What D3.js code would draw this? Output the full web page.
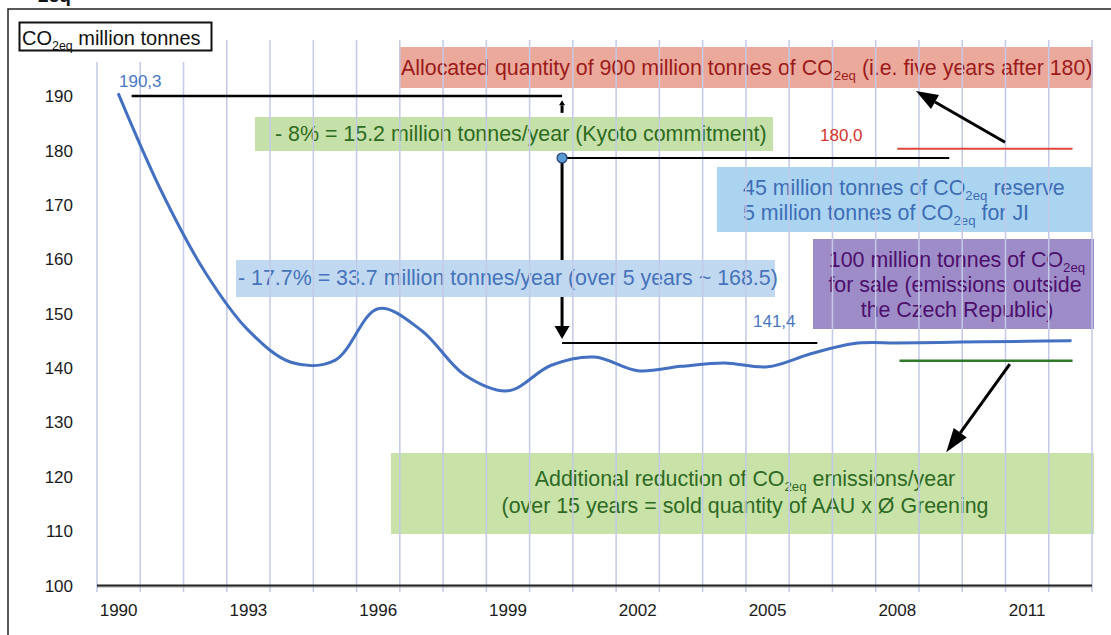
<!DOCTYPE html>
<meta charset="utf-8">
<head>
<style>
  body { margin: 0; background: #fff; }
  svg { font-family: "Liberation Sans", Arial, sans-serif; }
  .tick { font-size: 17px; fill: #1a1a1a; }
  .grid { stroke: #c3c9e7; stroke-width: 1.5; }
</style>
</head>
<body>
<svg id="chart" width="1111" height="635"></svg>
<script src="https://d3js.org/d3.v7.min.js"></script>
<script>

// yearly CO2eq emissions, million tonnes
var years = [1990, 1991, 1992, 1993, 1994, 1995, 1996, 1997, 1998, 1999, 2000, 2001,
             2002, 2003, 2004, 2005, 2006, 2007, 2008, 2009, 2010, 2011, 2012];
var emissions = [190.3, 172.3, 157.6, 146.9, 141.0, 141.4, 150.9, 146.9, 138.7, 135.8, 140.5, 142.0,
                 139.5, 140.3, 140.9, 140.2, 142.6, 144.5, 144.6, 144.7, 144.8, 144.9, 145.0];
var yTicks = [100, 110, 120, 130, 140, 150, 160, 170, 180, 190];
var xTickYears = [1990, 1993, 1996, 1999, 2002, 2005, 2008, 2011];

// reference lines: [fromYear, toYear, value]
var kyotoBase = [1990.3, 2000.25, 190.0];
var kyotoTarget = [2000.25, 2009.2, 178.6];
var reductionLine = [2000.25, 2006.15, 144.6];
var allocLine = [2008.0, 2012.05, 180.3];
var greenLine = [2008.05, 2012.05, 141.3];
// arrows: [fromYear, fromValue, toYear, toValue]
var arrowUp = [2000.25, 186.9, 2000.25, 189.2];
var arrowDown = [2000.25, 178.3, 2000.25, 145.3];
var arrowAlloc = [2010.49, 181.5, 2008.43, 190.9];
var arrowGreen = [2010.6, 140.7, 2009.13, 124.5];

var labelStart = "190,3", labelAlloc = "180,0", labelEnd = "141,4";

var svg = d3.select("#chart");

var x = d3.scaleBand().domain(years).range([97, 1092]);
var bw = x.bandwidth();
var xl = d3.scaleLinear().domain([1990, 2012]).range([x(1990) + bw / 2, x(2012) + bw / 2]);
var y = d3.scaleLinear().domain([100, 190]).range([585.5, 96]);

// frame of the cropped figure
svg.append("path").attr("d", "M8,640 V9 H1115").attr("fill", "none").attr("stroke", "#222").attr("stroke-width", 1.5);
svg.append("text").attr("x", 38).attr("y", 2).attr("font-size", 19).attr("font-weight", "bold").attr("fill", "#111").text("2eq");

// writes a line made of plain parts and {sub: ".."} parts
function richText(g, parts, px, py, size, color, anchor) {
  var t = g.append("text").attr("x", px).attr("y", py).attr("font-size", size)
    .attr("fill", color).attr("text-anchor", anchor || "start");
  var shift = Math.round(size * 0.25), back = 0;
  parts.forEach(function(p) {
    if (typeof p == "string") {
      t.append("tspan").attr("dy", back || null).text(p);
      back = 0;
    } else {
      t.append("tspan").attr("dy", shift).attr("font-size", size * 0.62).text(p.sub);
      back = -shift;
    }
  });
  return t;
}

function arrowHead(g, a, len, wid, color) {
  var x1 = xl(a[0]), y1 = y(a[1]), x2 = xl(a[2]), y2 = y(a[3]);
  var ang = Math.atan2(y2 - y1, x2 - x1);
  var bx = x2 - len * Math.cos(ang), by = y2 - len * Math.sin(ang);
  var nx = -Math.sin(ang) * wid / 2, ny = Math.cos(ang) * wid / 2;
  g.append("line").attr("x1", x1).attr("y1", y1).attr("x2", bx).attr("y2", by)
    .attr("stroke", color).attr("stroke-width", 3);
  g.append("polygon").attr("points", [[x2, y2], [bx + nx, by + ny], [bx - nx, by - ny]].join(" "))
    .attr("fill", color);
}

var ann = svg.append("g");
// the long vertical arrow sits under the blue box
arrowHead(ann, arrowDown, 13, 15, "#000");

// text boxes
var boxes = svg.append("g");
function box(bx, by, w, h, fill) {
  boxes.append("rect").attr("x", bx).attr("y", by).attr("width", w).attr("height", h).attr("fill", fill);
}
box(399, 47, 694, 41, "#eba99b");
box(255, 117, 518, 34, "#c6e0a9");
box(236, 260, 539, 37, "#c1d9f0");
box(717, 167, 375, 65, "#abd4f1");
box(813, 239, 281, 90, "#9d8cc8");
box(391, 453, 703, 81, "#c8e2a8");

var fs = 21.4;
richText(boxes, ["Allocated quantity of 900 million tonnes of  CO", {sub: "2eq"}, " (i.e. five years after 180)"], 401, 75, fs, "#9b1b1b");
richText(boxes, ["- 8% = 15.2 million tonnes/year (Kyoto commitment)"], 275, 141, fs, "#2e6b1e");
richText(boxes, ["- 17.7% = 33.7 million tonnes/year (over 5 years ~ 168.5)"], 238, 285, fs, "#4673bb");
richText(boxes, ["45 million tonnes of  CO", {sub: "2eq"}, " reserve"], 743, 195, fs, "#3e6db5");
richText(boxes, ["5 million tonnes of CO", {sub: "2eq"}, " for JI"], 743, 220, fs, "#3e6db5");
richText(boxes, ["100 million tonnes of CO", {sub: "2eq"}], 957, 267, fs, "#4d0f6b", "middle");
richText(boxes, ["for sale (emissions outside"], 955, 292, fs, "#4d0f6b", "middle");
richText(boxes, ["the Czech Republic)"], 957, 317, fs, "#4d0f6b", "middle");
richText(boxes, ["Additional reduction of CO", {sub: "2eq"}, " emissions/year"], 745, 486, fs, "#2f6a24", "middle");
richText(boxes, ["(over 15 years = sold quantity of AAU x \u00D8 Greening"], 745, 513, fs, "#2f6a24", "middle");

// vertical grid at band edges
var edges = years.map(function(d) { return x(d); }).concat([x(2012) + bw]);
svg.append("g").selectAll("line").data(edges).join("line")
  .attr("class", "grid")
  .attr("x1", function(d) { return d; }).attr("x2", function(d) { return d; })
  .attr("y1", function(d) { return d < 215 ? 62 : 40; }).attr("y2", 592);

// axis title box
svg.append("rect").attr("x", 19).attr("y", 22).attr("width", 193).attr("height", 40).attr("fill", "#fff");
svg.append("rect").attr("x", 19.5).attr("y", 22.5).attr("width", 192).attr("height", 28)
  .attr("fill", "#fff").attr("stroke", "#111").attr("stroke-width", 2);
richText(svg, ["CO", {sub: "2eq"}, " million tonnes"], 22, 45, 20, "#111");

// base line
svg.append("line").attr("x1", 97).attr("x2", 1092).attr("y1", y(100) + 1.5).attr("y2", y(100) + 1.5)
  .attr("stroke", "#999").attr("stroke-width", 1);
svg.append("line").attr("x1", 97).attr("x2", 1092).attr("y1", y(100)).attr("y2", y(100))
  .attr("stroke", "#222").attr("stroke-width", 2);

// tick labels
svg.append("g").selectAll("text").data(yTicks).join("text")
  .attr("class", "tick").attr("x", 73).attr("y", function(d) { return y(d); })
  .attr("dy", "0.36em").attr("text-anchor", "end").text(function(d) { return d; });
svg.append("g").selectAll("text").data(xTickYears).join("text")
  .attr("class", "tick").attr("x", function(d) { return x(d) + bw / 2; }).attr("y", 616)
  .attr("text-anchor", "middle").text(function(d) { return d; });

// emissions curve
var line = d3.line()
  .x(function(d, i) { return x(years[i]) + bw / 2; })
  .y(function(d) { return y(d); })
  .curve(d3.curveCatmullRom.alpha(0.5));
svg.append("path").datum(emissions).attr("d", line)
  .attr("fill", "none").attr("stroke", "#4470c2").attr("stroke-width", 3).attr("stroke-linecap", "round");

// reference lines
function refLine(r, color, w) {
  svg.append("line").attr("x1", xl(r[0])).attr("x2", xl(r[1]))
    .attr("y1", y(r[2])).attr("y2", y(r[2])).attr("stroke", color).attr("stroke-width", w);
}
refLine(kyotoBase, "#000", 2.5);
refLine(kyotoTarget, "#000", 2);
refLine(reductionLine, "#000", 2);
refLine(allocLine, "#e2463a", 2);
refLine(greenLine, "#2f7a2a", 2.5);

var marks = svg.append("g");
arrowHead(marks, arrowUp, 5, 6, "#000");
arrowHead(marks, arrowAlloc, 22, 16, "#000");
arrowHead(marks, arrowGreen, 24, 16, "#000");

marks.append("circle").attr("cx", xl(kyotoTarget[0])).attr("cy", y(kyotoTarget[2])).attr("r", 5)
  .attr("fill", "#5b9bd5").attr("stroke", "#24406e").attr("stroke-width", 1.2);

// value labels
marks.append("text").attr("x", 119).attr("y", 87).attr("font-size", 17).attr("fill", "#4a78c4").text(labelStart);
marks.append("text").attr("x", 820).attr("y", 141).attr("font-size", 17).attr("fill", "#d2352c").text(labelAlloc);
marks.append("text").attr("x", 753).attr("y", 327).attr("font-size", 17).attr("fill", "#4a78c4").text(labelEnd);

</script>
</body>
